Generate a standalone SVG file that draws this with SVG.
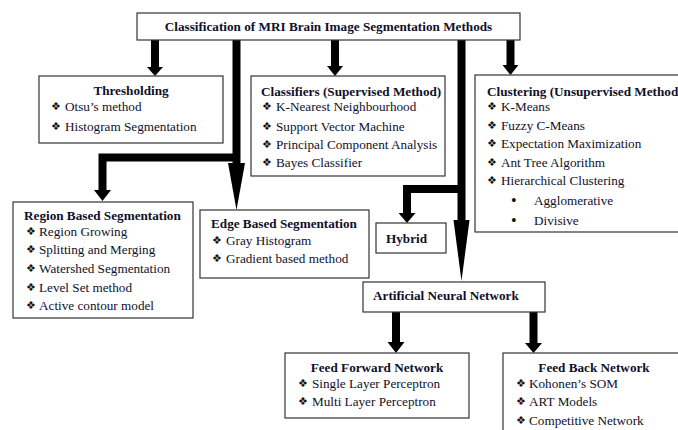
<svg xmlns="http://www.w3.org/2000/svg" width="678" height="430" viewBox="0 0 678 430">
<style>
  .box { fill: #fff; stroke: #333; stroke-width: 1.2; }
  text { font-family: "Liberation Serif", "Times New Roman", "DejaVu Serif", serif; font-size: 13.2px; fill: #10102a; }
  .b { font-weight: bold; }
  .c { text-anchor: middle; }
  .d { font-family: "DejaVu Sans", sans-serif; font-size: 11px; fill: #111; }
  .p { font-size: 16px; fill: #111; }
  .wire { fill: none; stroke: #000; stroke-width: 8; stroke-linejoin: miter; }
  .head { fill: #000; }
</style>
<rect width="678" height="430" fill="#fff"/>

<g id="connectors">
  <path class="wire" d="M155,40 V67"/>
  <polygon class="head" points="147,67 163,67 155,76"/>
  <path class="wire" d="M335,40 V66"/>
  <polygon class="head" points="327,66 343,66 335,76"/>
  <path class="wire" d="M510.5,40 V65"/>
  <polygon class="head" points="502.5,65 518.5,65 510.5,75"/>

  <path class="wire" d="M236.5,40 V164"/>
  <polygon class="head" points="228,163 245,163 236.5,210"/>
  <path class="wire" d="M236.5,157.5 H102.5 V191"/>
  <polygon class="head" points="94,190 111,190 102.5,201"/>

  <path class="wire" d="M461.5,40 V221"/>
  <polygon class="head" points="453.5,220 469.5,220 461.5,281"/>
  <path class="wire" d="M461.5,189 H407 V214"/>
  <polygon class="head" points="398.5,213 415.5,213 407,223"/>

  <path class="wire" d="M396,312 V343"/>
  <polygon class="head" points="387.5,342 404.5,342 396,353"/>
  <path class="wire" d="M533.5,312 V344"/>
  <polygon class="head" points="525,343 542,343 533.5,353"/>
</g>

<g id="root">
  <rect class="box" x="137" y="13" width="383" height="27"/>
  <text class="b c" x="328.5" y="30.5">Classification of MRI Brain Image Segmentation Methods</text>
</g>

<g id="thresholding">
  <rect class="box" x="39" y="76" width="184" height="67"/>
  <text class="b c" x="131" y="95">Thresholding</text>
  <text class="d" x="51" y="110">❖</text><text x="65" y="111">Otsu’s method</text>
  <text class="d" x="51" y="130">❖</text><text x="65" y="131">Histogram Segmentation</text>
</g>

<g id="classifiers">
  <rect class="box" x="251" y="76" width="194" height="100"/>
  <text class="b" x="261" y="96">Classifiers (Supervised Method)</text>
  <text class="d" x="262" y="110">❖</text><text x="276" y="111">K-Nearest Neighbourhood</text>
  <text class="d" x="262" y="130">❖</text><text x="276" y="131">Support Vector Machine</text>
  <text class="d" x="262" y="148">❖</text><text x="276" y="149">Principal Component Analysis</text>
  <text class="d" x="262" y="166">❖</text><text x="276" y="167">Bayes Classifier</text>
</g>

<g id="clustering">
  <rect class="box" x="475" y="75" width="220" height="157"/>
  <text class="b" x="487" y="96">Clustering (Unsupervised Method</text>
  <text class="d" x="487" y="110">❖</text><text x="501" y="111">K-Means</text>
  <text class="d" x="487" y="129">❖</text><text x="501" y="130">Fuzzy C-Means</text>
  <text class="d" x="487" y="147">❖</text><text x="501" y="148">Expectation Maximization</text>
  <text class="d" x="487" y="166">❖</text><text x="501" y="167">Ant Tree Algorithm</text>
  <text class="d" x="487" y="184">❖</text><text x="501" y="185">Hierarchical Clustering</text>
  <text class="p" x="511" y="206">•</text><text x="534" y="205">Agglomerative</text>
  <text class="p" x="511" y="226">•</text><text x="534" y="225">Divisive</text>
</g>

<g id="region">
  <rect class="box" x="13" y="202" width="180" height="116"/>
  <text class="b" x="24" y="220">Region Based Segmentation</text>
  <text class="d" x="26" y="235">❖</text><text x="39" y="236">Region Growing</text>
  <text class="d" x="26" y="253">❖</text><text x="39" y="254">Splitting and Merging</text>
  <text class="d" x="26" y="272">❖</text><text x="39" y="273">Watershed Segmentation</text>
  <text class="d" x="26" y="291">❖</text><text x="39" y="292">Level Set method</text>
  <text class="d" x="26" y="309">❖</text><text x="39" y="310">Active contour model</text>
</g>

<g id="edge">
  <rect class="box" x="200" y="210" width="169" height="68"/>
  <text class="b" x="211" y="228">Edge Based Segmentation</text>
  <text class="d" x="212" y="244">❖</text><text x="226" y="245">Gray Histogram</text>
  <text class="d" x="212" y="262">❖</text><text x="226" y="263">Gradient based method</text>
</g>

<g id="hybrid">
  <rect class="box" x="376" y="223" width="70" height="30"/>
  <text class="b" x="386" y="243">Hybrid</text>
</g>

<g id="ann">
  <rect class="box" x="363" y="282" width="182" height="30"/>
  <text class="b" x="373" y="300">Artificial Neural Network</text>
</g>

<g id="feedforward">
  <rect class="box" x="285" y="353" width="184" height="65"/>
  <text class="b c" x="377" y="372">Feed Forward Network</text>
  <text class="d" x="298" y="387">❖</text><text x="312" y="388">Single Layer Perceptron</text>
  <text class="d" x="298" y="405">❖</text><text x="312" y="406">Multi Layer Perceptron</text>
</g>

<g id="feedback">
  <rect class="box" x="503" y="353" width="182" height="90"/>
  <text class="b c" x="594" y="372">Feed Back Network</text>
  <text class="d" x="516" y="387">❖</text><text x="529" y="388">Kohonen’s SOM</text>
  <text class="d" x="516" y="405">❖</text><text x="529" y="406">ART Models</text>
  <text class="d" x="516" y="424">❖</text><text x="529" y="425">Competitive Network</text>
</g>
</svg>
